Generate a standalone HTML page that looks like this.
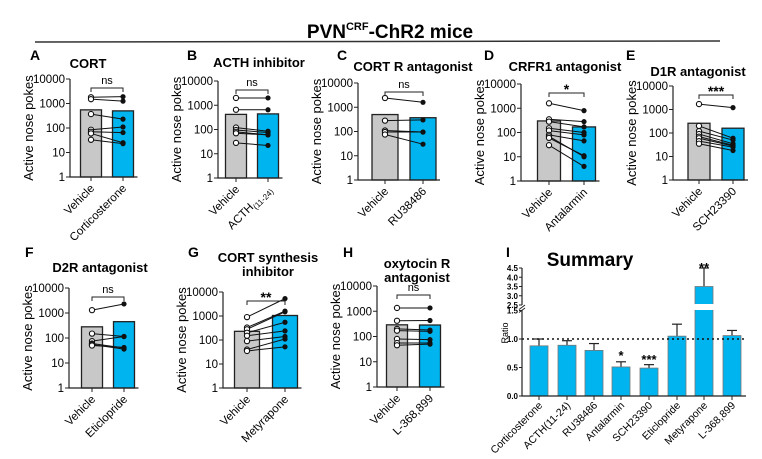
<!DOCTYPE html>
<html><head><meta charset="utf-8"><style>
html,body{margin:0;padding:0;background:#fff}
svg text{font-family:"Liberation Sans",Arial,sans-serif}
</style></head><body>
<svg id="s" width="762" height="454" viewBox="0 0 762 454" xmlns="http://www.w3.org/2000/svg">
<text x="390" y="38" text-anchor="middle" font-size="19" font-weight="bold">PVN<tspan font-size="11" dy="-8">CRF</tspan><tspan dy="8">-ChR2 mice</tspan></text>
<line x1="35" y1="42" x2="720" y2="41" stroke="#333" stroke-width="1.5"/>
</svg>
<script>
const S=document.getElementById('s');let h='';
const BL='#00b4ef',GR='#c8c8c8';
function T(x,y,t,a){a=a||{};return `<text x="${x}" y="${y}" font-size="${a.fs||12}" text-anchor="${a.an||'middle'}" ${a.fw?'font-weight="bold"':''} ${a.tr?`transform="${a.tr}"`:''}>${t}</text>`;}
const P=[
{L:'A',lx:30,ly:60,title:['CORT'],tx:88,ty:68,ax:70,top:79,bot:177,gv:91,gd:123,bw:21,bar:[550,500],sig:'ns',lab:['Vehicle','Corticosterone'],
pts:[[1800,1900],[1500,1250],[370,230],[85,110],[70,65],[60,25],[33,23]]},
{L:'B',lx:187,ly:60,title:['ACTH inhibitor'],tx:259,ty:67,ax:218,top:81,bot:178,gv:236,gd:268,bw:21,bar:[420,440],sig:'ns',lab:['Vehicle','ACTH(11-24)'],
pts:[[2000,2000],[650,650],[120,85],[95,75],[80,60],[70,60],[28,22]]},
{L:'C',lx:337,ly:60,title:['CORT R antagonist'],tx:413,ty:71,ax:358,top:83,bot:180,gv:385,gd:423,bw:26,bar:[500,370],sig:'ns',lab:['Vehicle','RU38486'],
pts:[[2400,1600],[280,300],[110,95],[95,95],[75,30]]},
{L:'D',lx:484,ly:60,title:['CRFR1 antagonist'],tx:565,ty:71,ax:521,top:84,bot:181,gv:549,gd:584,bw:23,bar:[300,170],sig:'*',lab:['Vehicle','Antalarmin'],
pts:[[1600,800],[350,280],[280,170],[150,100],[120,80],[80,45],[70,10],[60,11],[30,4]]},
{L:'E',lx:626,ly:60,title:['D1R antagonist'],tx:698,ty:76,ax:673,top:86,bot:180,gv:699,gd:733,bw:22,bar:[260,160],sig:'***',lab:['Vehicle','SCH23390'],
pts:[[1700,1200],[200,60],[120,50],[90,35],[70,30],[60,28],[45,25],[35,18]]},
{L:'F',lx:25,ly:257,title:['D2R antagonist'],tx:100,ty:272,ax:69,top:288,bot:388,gv:92,gd:124,bw:21,bar:[280,450],sig:'ns',lab:['Vehicle','Eticlopride'],
pts:[[1300,2300],[150,115],[75,115],[60,40],[55,36],[50,42]]},
{L:'G',lx:188,ly:257,title:['CORT synthesis','inhibitor'],tx:268,ty:262,ax:223,top:292,bot:388,gv:247,gd:285,bw:25,bar:[230,1050],sig:'**',lab:['Vehicle','Metyrapone'],
pts:[[900,5300],[330,1600],[280,1500],[200,550],[150,240],[90,140],[40,110],[35,52]]},
{L:'H',lx:343,ly:257,title:['oxytocin R','antagonist'],tx:417,ty:268,ax:377,top:286,bot:387,gv:397,gd:430,bw:21,bar:[290,285],sig:'ns',lab:['Vehicle','L-368,899'],
pts:[[1350,1350],[420,430],[200,180],[170,160],[80,75],[55,55],[45,50]]}
];
P.forEach(p=>{
 const Y=v=>p.bot-(p.bot-p.top)*Math.log10(v)/4;
 h+=T(p.lx,p.ly,p.L,{fs:14,fw:1,an:'start'});
 p.title.forEach((t,i)=>h+=T(p.tx,p.ty+i*14,t,{fs:13,fw:1}));
 const mid=(p.top+p.bot)/2, lx=p.ax-42;
 h+=`<text x="${lx}" y="${mid}" font-size="13" text-anchor="middle" transform="rotate(-90 ${lx} ${mid}) translate(0 5)">Active nose pokes</text>`;
 [[p.gv,p.bar[0],GR],[p.gd,p.bar[1],BL]].forEach(([c,v,col])=>{
  h+=`<rect x="${c-p.bw/2}" y="${Y(v)}" width="${p.bw}" height="${p.bot-Y(v)}" fill="${col}" stroke="#222" stroke-width="1.3"/>`;});
 h+=`<path d="M${p.ax} ${p.top}V${p.bot}H${p.gd+p.bw/2+4}" fill="none" stroke="#222" stroke-width="1.2"/>`;
 [0,1,2,3,4].forEach(k=>{const y=p.bot-(p.bot-p.top)*k/4;h+=`<line x1="${p.ax-4}" y1="${y}" x2="${p.ax}" y2="${y}" stroke="#222"/>`;h+=T(p.ax-5,y+4,Math.pow(10,k),{fs:11.5,an:'end'});});
 [p.gv,p.gd].forEach((c,i)=>{h+=`<line x1="${c}" y1="${p.bot}" x2="${c}" y2="${p.bot+4}" stroke="#222"/>`;
   const lab=p.lab[i]=='ACTH(11-24)'?'ACTH<tspan font-size="8" dy="3">(11-24)</tspan>':p.lab[i];
   h+=T(c+4,p.bot+12,lab,{fs:11.5,an:'end',tr:`rotate(-45 ${c+4} ${p.bot+12})`});});
 p.pts.forEach(([a,b])=>{h+=`<line x1="${p.gv}" y1="${Y(a)}" x2="${p.gd}" y2="${Y(b)}" stroke="#111" stroke-width="1"/>`;});
 p.pts.forEach(([a,b])=>{h+=`<circle cx="${p.gv}" cy="${Y(a)}" r="2.6" fill="#fff" stroke="#111" stroke-width="1.1"/><circle cx="${p.gd}" cy="${Y(b)}" r="2.6" fill="#111"/>`;});
 const by=p.top+9;
 h+=`<path d="M${p.gv} ${by+4}V${by}H${p.gd}V${by+4}" fill="none" stroke="#222"/>`;
 h+=p.sig=='ns'?T((p.gv+p.gd)/2,by-4,'ns',{fs:11}):T((p.gv+p.gd)/2,by+1,p.sig,{fs:14,fw:1});
});
h+=T(506,257,'I',{fs:14,fw:1,an:'start'});
h+=T(590,266,'Summary',{fs:19,fw:1});
const ax=522,y0=396,sc=57;
const Yl=v=>y0-v*sc, Yu=v=>305-(v-2.5)*18.5;
h+=`<text x="505" y="333" font-size="9" text-anchor="middle" transform="rotate(-90 505 333) translate(0 3)">Ratio</text>`;
const names=['Corticosterone','ACTH(11-24)','RU38486','Antalarmin','SCH23390','Eticlopride','Metyrapone','L-368,899'];
const cx=[539,567,594,621,649,677,704,732],val=[0.88,0.89,0.80,0.51,0.49,1.05,3.5,1.06],err=[1.0,0.97,0.92,0.6,0.55,1.26,4.5,1.15];
cx.forEach((c,i)=>{
 const top=val[i]>2?Yu(val[i]):Yl(val[i]);const et=err[i]>2?Yu(err[i]):Yl(err[i]);
 h+=`<line x1="${c}" y1="${top}" x2="${c}" y2="${et}" stroke="#222" stroke-width="1.2"/><line x1="${c-5}" y1="${et}" x2="${c+5}" y2="${et}" stroke="#222" stroke-width="1.2"/>`;
 h+=`<rect x="${c-9}" y="${top}" width="18" height="${y0-top}" fill="${BL}" stroke="#777" stroke-width="0.8"/>`;
 h+=`<line x1="${c}" y1="${y0}" x2="${c}" y2="${y0+4}" stroke="#222"/>`;
 h+=T(c+4,y0+10,names[i],{fs:10.5,an:'end',tr:`rotate(-45 ${c+4} ${y0+10})`});
});
h+=`<rect x="694" y="304" width="20" height="6" fill="#fff"/>`;
h+=`<line x1="${ax}" y1="339" x2="746" y2="339" stroke="#111" stroke-width="1.6" stroke-dasharray="2 3"/>`;
h+=`<path d="M${ax} ${Yl(1.5)}V${y0}H746M${ax} 305V${Yu(4.5)}" fill="none" stroke="#222" stroke-width="1.2"/>`;
h+=`<path d="M${ax-3} ${Yl(1.5)-1}L${ax+3} 305M${ax-3} ${Yl(1.5)+2}L${ax+3} 308" stroke="#222"/>`;
[0,0.5,1.0,1.5].forEach(v=>{const y=Yl(v);h+=`<line x1="${ax-3}" y1="${y}" x2="${ax}" y2="${y}" stroke="#222"/>`;h+=T(ax-4,y+3,v.toFixed(1),{fs:8,fw:1,an:'end'});});
[2.5,3.0,3.5,4.0,4.5].forEach(v=>{const y=Yu(v);h+=`<line x1="${ax-3}" y1="${y}" x2="${ax}" y2="${y}" stroke="#222"/>`;h+=T(ax-4,y+3,v.toFixed(1),{fs:8,fw:1,an:'end'});});
h+=T(621,360,'*',{fs:13,fw:1})+T(649,364,'***',{fs:13,fw:1})+T(704,272,'**',{fs:13,fw:1});
S.insertAdjacentHTML('beforeend',h);
</script>
</body></html>
